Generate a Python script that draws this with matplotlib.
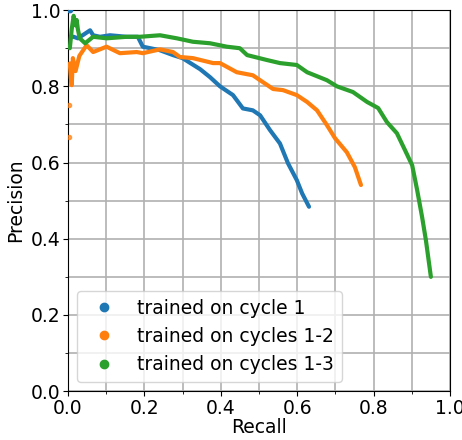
import numpy as np
import matplotlib.pyplot as plt
from matplotlib.lines import Line2D
from matplotlib.ticker import MultipleLocator

# cycle 1
rec1 = [0.008, 0.015, 0.026, 0.04, 0.058, 0.066, 0.084, 0.11, 0.154, 0.183,
        0.196, 0.24, 0.275, 0.30, 0.346, 0.372, 0.398, 0.432, 0.458, 0.484, 0.503,
        0.529, 0.555, 0.576, 0.599, 0.613, 0.631]
prec1 = [0.93, 0.93, 0.926, 0.935, 0.947, 0.934, 0.93, 0.934, 0.93, 0.93,
         0.904, 0.895, 0.882, 0.874, 0.845, 0.824, 0.80, 0.777, 0.742, 0.737, 0.724,
         0.685, 0.65, 0.598, 0.554, 0.519, 0.484]
# isolated first points of cycle 1
rec1_start = [0.003, 0.006]
prec1_start = [1.0, 1.0]

# cycles 1-2
rec2 = [0.005, 0.008, 0.01, 0.013, 0.02, 0.03, 0.049, 0.066, 0.101, 0.136,
        0.18, 0.196, 0.241, 0.275, 0.293, 0.327, 0.38, 0.398, 0.442, 0.484,
        0.503, 0.537, 0.563, 0.599, 0.626, 0.652, 0.678, 0.699, 0.73, 0.751, 0.767]
prec2 = [0.86, 0.82, 0.803, 0.874, 0.84, 0.88, 0.908, 0.89, 0.904, 0.887,
         0.89, 0.887, 0.897, 0.89, 0.877, 0.874, 0.861, 0.861, 0.837, 0.829,
         0.816, 0.793, 0.79, 0.777, 0.759, 0.737, 0.698, 0.664, 0.627, 0.588, 0.541]
rec2_start = [0.002, 0.002]
prec2_start = [0.667, 0.75]

# cycles 1-3
rec3 = [0.005, 0.01, 0.015, 0.02, 0.023, 0.026, 0.031, 0.045, 0.066, 0.101,
        0.154, 0.188, 0.241, 0.285, 0.327, 0.372, 0.416, 0.45, 0.469, 0.521,
        0.555, 0.599, 0.626, 0.678, 0.704, 0.746, 0.783, 0.812, 0.835, 0.861,
        0.882, 0.901, 0.914, 0.927, 0.937, 0.95]
prec3 = [0.90, 0.95, 0.985, 0.96, 0.974, 0.95, 0.926, 0.913, 0.93, 0.926,
         0.93, 0.93, 0.934, 0.926, 0.917, 0.913, 0.904, 0.90, 0.882, 0.869,
         0.861, 0.856, 0.837, 0.816, 0.80, 0.785, 0.759, 0.743, 0.706, 0.677,
         0.633, 0.593, 0.528, 0.457, 0.396, 0.30]

labels = ['trained on cycle 1', 'trained on cycles 1-2', 'trained on cycles 1-3']
colors = ['#1f77b4', '#ff7f0e', '#2ca02c']

fig = plt.figure(figsize=(4.62, 4.4), dpi=100)
ax = fig.add_axes([0.147, 0.111, 0.827, 0.866])

for r, p, c in zip([rec1, rec2, rec3], [prec1, prec2, prec3], colors):
    ax.plot(r, p, '-', color=c, lw=3.0, solid_capstyle='round',
            solid_joinstyle='round', zorder=3)
ax.plot(rec1_start, prec1_start, 'o', color=colors[0], ms=3, zorder=3)
ax.plot(rec2_start, prec2_start, 'o', color=colors[1], ms=3, alpha=0.7, zorder=3)

ax.set_xlim(0, 1)
ax.set_ylim(0, 1)
ax.xaxis.set_major_locator(MultipleLocator(0.2))
ax.yaxis.set_major_locator(MultipleLocator(0.2))
ax.xaxis.set_minor_locator(MultipleLocator(0.1))
ax.yaxis.set_minor_locator(MultipleLocator(0.1))
ax.grid(which='both', color='#b0b0b0', lw=1.2)
ax.set_axisbelow(True)
ax.tick_params(labelsize=13.5, pad=2)
ax.set_xlabel('Recall', fontsize=13.5, labelpad=0)
ax.set_ylabel('Precision', fontsize=13.5)

handles = [Line2D([], [], marker='o', ls='none', color=c, markersize=6) for c in colors]
ax.legend(handles, labels, loc='lower left', fontsize=13.5)

fig.savefig('out.png', dpi=100)
